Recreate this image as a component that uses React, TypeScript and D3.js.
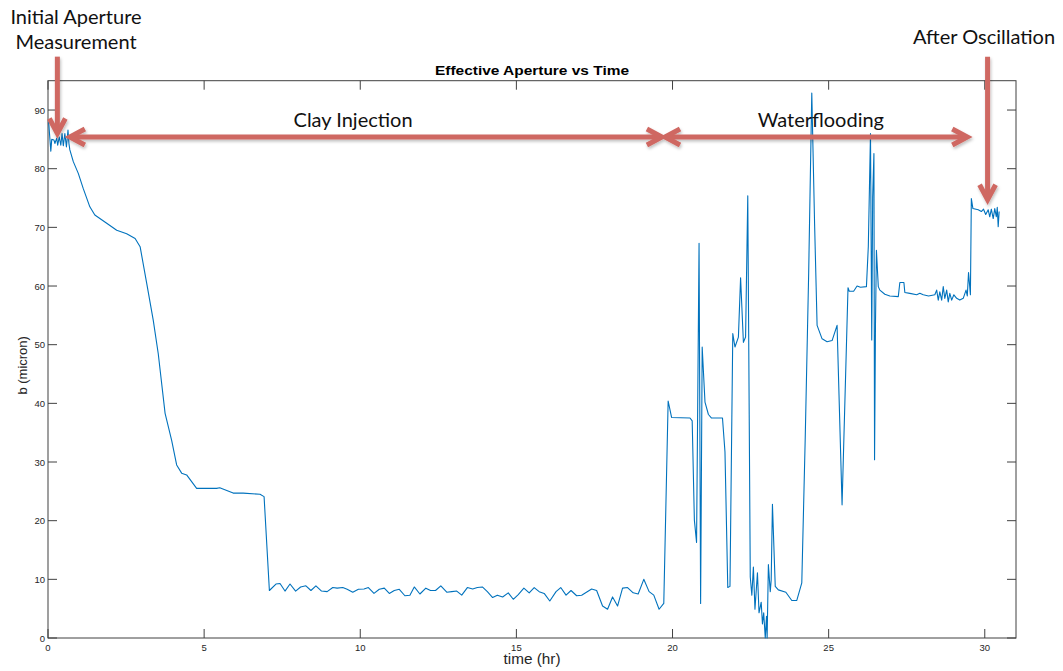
import React from "react";
import * as d3 from "d3";

// ---- data (time in hr, effective aperture b in micron) ----
const initialTime = [0.02, 0.09, 0.12, 0.19, 0.22, 0.28, 0.31, 0.36, 0.41, 0.45, 0.49, 0.54, 0.59, 0.64];
const initialB = [88.0, 83.0, 85.0, 84.9, 84.3, 85.2, 84.0, 85.4, 84.0, 86.0, 83.9, 86.0, 83.7, 86.6];

const clayTime = [0.67, 0.7, 0.81, 0.97, 1.13, 1.34, 1.5, 1.88, 2.2, 2.52, 2.79, 2.95, 3.16, 3.37, 3.53, 3.75, 3.96, 4.12, 4.28, 4.44, 4.76, 5.08, 5.4, 5.5, 5.93, 6.25, 6.79, 6.92,
  7.09, 7.3, 7.43, 7.59, 7.75, 7.93, 8.09, 8.26, 8.42, 8.58, 8.76, 8.94, 9.12, 9.26, 9.44, 9.58, 9.76, 9.94, 10.12, 10.26, 10.44, 10.61, 10.77, 10.93, 11.09, 11.25, 11.43, 11.59, 11.73, 11.91,
  12.1, 12.25, 12.41, 12.58, 12.77, 12.93, 13.09, 13.25, 13.43, 13.6, 13.75, 13.91, 14.07, 14.24, 14.39, 14.56, 14.74, 14.9, 15.06, 15.24, 15.41, 15.57, 15.73, 15.89, 16.07, 16.27, 16.42,
  16.59, 16.75, 16.93, 17.09, 17.41, 17.57, 17.76, 17.92, 18.08, 18.24, 18.4, 18.56, 18.74, 18.9, 19.08, 19.25, 19.4, 19.57, 19.72];
const clayB = [84.3, 83.2, 81.2, 79.2, 76.6, 73.5, 72.1, 70.7, 69.5, 68.9, 68.1, 66.7, 60.5, 54.2, 48.5, 38.3, 33.7, 29.5, 28.1, 27.8, 25.5, 25.5, 25.5, 25.6, 24.7, 24.7, 24.5, 24.1,
  8.1, 9.2, 9.3, 8.0, 9.2, 8.0, 8.7, 8.9, 8.1, 8.9, 8.0, 7.9, 8.6, 8.5, 8.6, 8.3, 7.8, 8.3, 8.35, 8.6, 7.6, 8.3, 8.5, 7.6, 8.1, 8.3, 7.2, 7.3, 8.7, 7.5,
  8.5, 8.1, 8.1, 8.9, 7.8, 7.9, 8.0, 7.3, 8.6, 8.35, 8.6, 8.7, 7.9, 6.9, 7.3, 7.0, 7.7, 6.6, 7.4, 8.5, 7.7, 8.6, 7.9, 7.6, 6.3, 7.9, 8.6,
  7.3, 8.1, 7.2, 7.3, 8.35, 8.1, 5.45, 4.9, 7.0, 5.45, 8.5, 8.6, 7.7, 7.5, 10.0, 7.9, 7.3, 4.9, 5.9];

const waterTime = [19.86, 19.97, 20.56, 20.63, 20.7, 20.77, 20.85, 20.9, 20.95, 21.04, 21.15, 21.25, 21.6, 21.68, 21.77, 21.84, 21.93, 22.0, 22.11, 22.18, 22.27, 22.34, 22.41,
  22.49, 22.54, 22.59, 22.64, 22.72, 22.77, 22.84, 22.88, 22.92, 22.97, 23.01, 23.03, 23.07, 23.13, 23.16, 23.2, 23.29, 23.39, 23.63, 23.82, 23.98, 24.14, 24.25, 24.36, 24.46,
  24.55, 24.63, 24.79, 24.95, 25.11, 25.27, 25.43, 25.62, 25.66, 25.8, 25.91, 26.02, 26.21, 26.27, 26.34, 26.38, 26.41, 26.45, 26.47, 26.5, 26.53, 26.59, 26.64, 26.8, 26.96,
  27.23, 27.28, 27.41, 27.44, 27.6, 27.82, 27.92, 28.03, 28.2, 28.4, 28.46, 28.51, 28.56, 28.62, 28.67, 28.72, 28.78, 28.83, 28.88, 28.94, 29.01, 29.1, 29.2, 29.31, 29.4,
  29.44, 29.48, 29.54];
const waterB = [40.4, 37.6, 37.5, 37.0, 20.1, 16.3, 67.3, 5.9, 49.6, 40.2, 38.1, 37.5, 37.5, 31.7, 8.6, 8.8, 51.9, 49.6, 51.3, 61.4, 50.4, 51.3, 75.4,
  10.4, 7.3, 12.1, 4.9, 11.1, 4.3, 6.1, 2.4, 4.3, 0, 3.7, 0, 12.5, 7.9, 9.9, 22.8, 8.8, 8.2, 7.8, 6.4, 6.4, 9.4, 34.1, 62.1, 92.9,
  70.6, 53.3, 51.0, 50.5, 50.7, 53.3, 22.7, 59.7, 59.1, 59.1, 60.0, 59.8, 59.9, 66.7, 86.0, 50.8, 75.2, 82.6, 30.4, 53.6, 66.1, 59.9, 59.3, 58.6, 58.3,
  58.2, 60.6, 60.6, 58.9, 58.75, 58.5, 58.75, 58.5, 58.3, 58.5, 59.3, 57.6, 59.0, 57.6, 59.9, 57.9, 59.3, 57.3, 58.75, 57.6, 58.5, 57.9, 57.6, 57.9, 59.3,
  58.3, 62.3, 58.5];

const afterTime = [29.57, 29.62, 29.79, 29.89, 29.96, 30.03, 30.11, 30.16, 30.21, 30.27, 30.32, 30.37, 30.4, 30.43, 30.46];
const afterB = [74.9, 73.2, 73.0, 72.7, 73.1, 72.2, 73.0, 71.8, 73.1, 71.5, 73.2, 71.8, 73.4, 70.1, 72.7];

const xTicks = [0, 5, 10, 15, 20, 25, 30];
const yTicks = [0, 10, 20, 30, 40, 50, 60, 70, 80, 90];

const titleText = "Effective Aperture vs Time";
const xLabel = "time (hr)";
const yLabel = "b (micron)";

// annotation arrows in data units: [x1, y1, x2, y2, heads]
const phaseArrows: [number, number, number, number, string][] = [
  [0.3, 99.1, 0.3, 86.0, "end"],
  [0.7, 85.4, 19.66, 85.4, "both"],
  [19.76, 85.4, 29.44, 85.4, "both"],
  [30.09, 99.1, 30.09, 74.7, "end"],
];

export default function App() {
  const W = 1063;
  const H = 671;
  const x = d3.scaleLinear().domain([0, 31]).range([48, 1016]);
  const y = d3.scaleLinear().domain([0, 95]).range([638, 80.7]);

  const times = [...initialTime, ...clayTime, ...waterTime, ...afterTime];
  const vals = [...initialB, ...clayB, ...waterB, ...afterB];
  const pts: [number, number][] = times.map((t, i) => [t, vals[i]]);
  const line = d3.line<[number, number]>().x((d) => x(d[0])).y((d) => y(d[1]));

  const [x0, x1] = x.range();
  const [y0, y1] = y.range();
  const axisColor = "#404040";
  const tickLen = 9;
  const mFont = "'Liberation Sans', Arial, Helvetica, sans-serif";
  const aFont = "Lato, 'Open Sans', sans-serif";
  const red = "#CF6862";

  const arrowHead = (tx: number, ty: number, dx: number, dy: number) => {
    const L = 15;
    const Wd = 8;
    const bx = tx - dx * L;
    const by = ty - dy * L;
    const px = -dy;
    const py = dx;
    return `M${bx + px * Wd},${by + py * Wd}L${tx},${ty}L${bx - px * Wd},${by - py * Wd}`;
  };

  return (
    <div style={{ position: "absolute", left: 0, top: 0 }}>
      <svg width={W} height={H} style={{ display: "block", background: "#fff" }}>
        <defs>
          <filter id="shadow" x="-10%" y="-10%" width="120%" height="140%">
            <feDropShadow dx="1" dy="2" stdDeviation="1.5" floodColor="#000" floodOpacity="0.25" />
          </filter>
        </defs>
        {/* axes box */}
        <rect x={x0} y={y1} width={x1 - x0} height={y0 - y1} fill="none" stroke={axisColor} strokeWidth={1} />
        {xTicks.map((t) => (
          <g key={"xt" + t}>
            <line x1={x(t)} x2={x(t)} y1={y0} y2={y0 - tickLen} stroke={axisColor} />
            <line x1={x(t)} x2={x(t)} y1={y1} y2={y1 + tickLen} stroke={axisColor} />
            <text x={x(t)} y={y0 + 13} textAnchor="middle" fontFamily={mFont} fontSize={9.5} fill="#262626">
              {t}
            </text>
          </g>
        ))}
        {yTicks.map((t) => (
          <g key={"yt" + t}>
            <line x1={x0} x2={x0 + tickLen} y1={y(t)} y2={y(t)} stroke={axisColor} />
            <line x1={x1} x2={x1 - tickLen} y1={y(t)} y2={y(t)} stroke={axisColor} />
            <text x={x0 - 3} y={y(t) + 3.5} textAnchor="end" fontFamily={mFont} fontSize={9.5} fill="#262626">
              {t}
            </text>
          </g>
        ))}
        {/* title and labels */}
        <text x={(x0 + x1) / 2} y={75} textAnchor="middle" fontFamily={mFont} fontWeight="bold" fontSize={13}
          textLength={194} lengthAdjust="spacingAndGlyphs" fill="#000">
          {titleText}
        </text>
        <text x={(x0 + x1) / 2} y={664} textAnchor="middle" fontFamily={mFont} fontSize={14}
          textLength={57} lengthAdjust="spacingAndGlyphs" fill="#262626">
          {xLabel}
        </text>
        <text
          transform={`translate(27,${(y0 + y1) / 2 + 6}) rotate(-90)`}
          textAnchor="middle"
          fontFamily={mFont}
          fontSize={13}
          fill="#262626"
        >
          {yLabel}
        </text>
        {/* data line */}
        <path d={line(pts) || ""} fill="none" stroke="#0072BD" strokeWidth={1.1} strokeLinejoin="round" />
        {/* annotation arrows */}
        <g filter="url(#shadow)" stroke={red} strokeWidth={5} fill="none" strokeLinejoin="miter" strokeLinecap="butt">
          {phaseArrows.map(([ax1, ay1, ax2, ay2, heads], i) => {
            const X1 = x(ax1), Y1 = y(ay1), X2 = x(ax2), Y2 = y(ay2);
            const len = Math.hypot(X2 - X1, Y2 - Y1);
            const dx = (X2 - X1) / len, dy = (Y2 - Y1) / len;
            return (
              <g key={"ar" + i}>
                <line x1={heads === "both" ? X1 + dx * 2 : X1} y1={heads === "both" ? Y1 + dy * 2 : Y1} x2={X2 - dx * 2} y2={Y2 - dy * 2} />
                <path d={arrowHead(X2, Y2, dx, dy)} />
                {heads === "both" && <path d={arrowHead(X1, Y1, -dx, -dy)} />}
              </g>
            );
          })}
        </g>
        {/* annotation text */}
        <g fontFamily={aFont} fontSize={20} fill="#111">
          <text x={76} y={24} textAnchor="middle">Initial Aperture</text>
          <text x={76} y={49} textAnchor="middle">Measurement</text>
          <text x={984} y={44} textAnchor="middle">After Oscillation</text>
          <text x={x(9.77)} y={127} textAnchor="middle">Clay Injection</text>
          <text x={x(24.75)} y={127} textAnchor="middle">Waterflooding</text>
        </g>
      </svg>
    </div>
  );
}
